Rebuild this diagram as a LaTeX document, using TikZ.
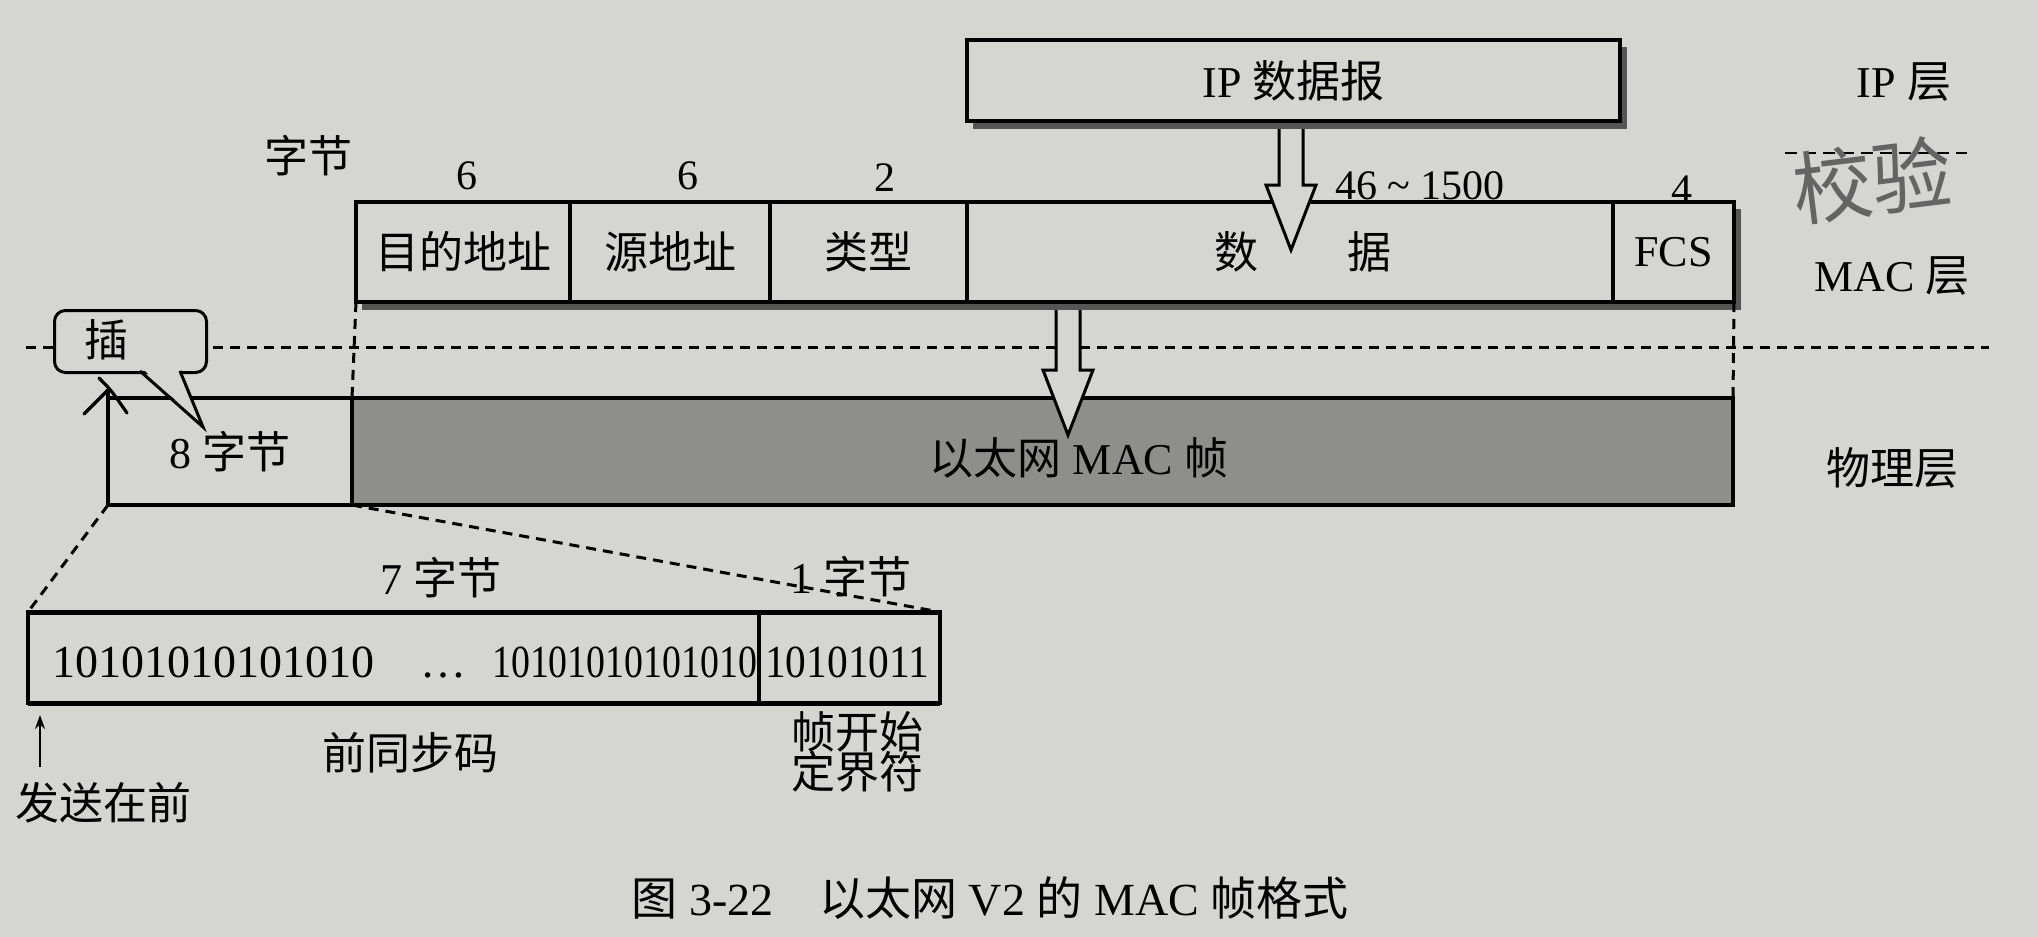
\documentclass[tikz,border=0pt]{standalone}
\usepackage{fontspec}
\setmainfont{Liberation Serif}
\newfontfamily\cjk{Noto Sans CJK SC}
\usetikzlibrary{arrows.meta}
\definecolor{paper}{RGB}{213,213,209}
\definecolor{framegray}{RGB}{142,142,139}
\definecolor{shadowgray}{RGB}{85,85,85}
\definecolor{pencil}{RGB}{100,100,100}
\newcommand{\fs}[1]{\fontsize{#1}{#1}\selectfont}
\tikzset{
  field/.style={draw=black, line width=3.2pt, fill=paper, inner sep=0pt, outer sep=0pt,
                anchor=north west, minimum height=100pt, font=\fs{44}\cjk},
  lab/.style={inner sep=0pt, font=\fs{42}},
  zh/.style={inner sep=0pt, font=\fs{44}\cjk},
  dashline/.style={line width=3pt, dash pattern=on 10pt off 7pt},
  hollow/.style={draw=black, line width=3pt, fill=paper, line join=miter},
  edge/.style={line width=3.2pt},
}
\newcommand{\harrow}[4]{%
  \filldraw[hollow] (#1-12,#2) -- (#1-12,#3) -- (#1-25,#3) -- (#1,#4) -- (#1+25,#3) -- (#1+12,#3) -- (#1+12,#2);}
\begin{document}
\begin{tikzpicture}[x=1pt,y=-1pt]
\useasboundingbox (0,0) rectangle (2038,937);
\fill[paper] (0,0) rectangle (2038,937);

% ---------- IP layer ----------
\fill[shadowgray] (973,47) rectangle (1627,129);
\node[field, minimum width=653pt, minimum height=81pt, font=\fs{44}] (ip) at (967,40) {IP {\cjk 数据报}};
\node[lab, font=\fs{44}] (iplayer) at (1904,82) {IP {\cjk 层}};
\draw[line width=2.8pt, dash pattern=on 12pt off 7pt] (1785,153) -- (1967,153);

% ---------- MAC frame ----------
\node[zh] (bytes) at (308,156) {字节};
\fill[shadowgray] (362,209) rectangle (1741,310);
\node[field, minimum width=214pt] (dst) at (356,202) {目的地址};
\node[field, minimum width=200pt] (src) at (dst.north east) {源地址};
\node[field, minimum width=197pt] (type) at (src.north east) {类型};
\node[field, minimum width=646pt] (data) at (type.north east) {\hspace{26pt}数\hspace{90pt}据};
\node[field, minimum width=121pt, font=\fs{44}] (fcs) at (data.north east) {FCS};
\node[lab] (n1) at (467,176) {6};
\node[lab] (n2) at (688,176) {6};
\node[lab] (n3) at (885,178) {2};
\node[lab] (n4) at (1420,186) {46 \char"007E\ 1500};
\node[lab] (n5) at (1682,190) {4};
\node[lab, font=\fs{44}] (maclayer) at (1892,276) {MAC {\cjk 层}};

% IP -> data arrow
\harrow{1291}{129}{185}{250}

% ---------- layer separator ----------
\draw[dashline] (26,347) -- (1989,347);

% ---------- physical layer ----------
\node[field, fill=framegray, minimum width=1381pt, minimum height=107pt] (phys) at (352,398) {};
\node[inner sep=0pt, font=\fs{44}] (physname) at (1079,458) {{\cjk 以太网} MAC {\cjk 帧}};
\coordinate (pbl) at (108,505);
\coordinate (ptl) at (108,398);
\draw[edge] (ptl) -- (phys.north west);
\draw[edge] (pbl) -- (phys.south west);
\node[zh, font=\fs{44}] (eight) at (230,452) {8 {\cjk 字节}};
\node[zh] (physlayer) at (1892,468) {物理层};

\draw[dashline] (dst.south west) -- (phys.north west);
\draw[dashline] (fcs.south east) -- (phys.north east);

% MAC -> physical arrow
\harrow{1068}{310}{370}{435}

% insert arrow (shaped like 入)
\draw[edge] (pbl) -- (108,389);
\draw[edge, line cap=round] (99,378) .. controls (111,390) .. (127,413);
\draw[edge, line cap=round] (108,390) -- (84,414);

% speech bubble 插
\node[draw=black, line width=3pt, rounded corners=11pt, fill=paper, anchor=north west,
      minimum width=152pt, minimum height=62pt, inner sep=0pt] (bub) at (53,309) {};
\node[zh] (ins) at (106,340) {插};
\coordinate (tailtip) at (203,427);
\fill[paper] (141,367) -- (tailtip) -- (179,367) -- cycle;
\draw[line width=3pt, line join=miter] (140,371) -- (tailtip) -- (180,371);

% ---------- preamble ----------
\draw[dashline] (pbl) -- (28,612);
\node[field, minimum width=731pt, minimum height=91pt] (pre) at (28,612) {};
\node[field, minimum width=181pt, minimum height=91pt] (sfd) at (pre.north east) {};
\draw[line width=5pt] (pre.north west) -- (sfd.north east);
\draw[line width=5pt] (pre.south west) -- (sfd.south east);
\draw[dashline] (phys.south west) -- (sfd.north east);

\node[inner sep=0pt, anchor=base west, font=\fs{46}] (bits1) at (52,677) {10101010101010};
\node[inner sep=0pt, anchor=base, font=\fs{46}] (dots) at (443,677) {\char"2026};
\node[inner sep=0pt, anchor=base west, font=\fs{46}] (bits2) at (492,677) {\scalebox{0.823}[1]{10101010101010}};
\node[inner sep=0pt, anchor=base west, font=\fs{46}] (bits3) at (765,677) {\scalebox{0.9}[1]{10101011}};

\node[zh, font=\fs{44}] (seven) at (441,578) {7 {\cjk 字节}};
\node[zh, font=\fs{44}] (one) at (851,577) {1 {\cjk 字节}};
\node[zh] (prename) at (410,753) {前同步码};
\node[zh, align=center] (sfdname) at (857,752) {帧开始\\[-4pt]定界符};
\node[zh] (first) at (104,803) {发送在前};
\coordinate (sendtail) at (40,767);
\coordinate (sendtip) at (40,715);
\draw[line width=2.6pt, -{Stealth[length=14pt,width=10pt]}] (sendtail) -- (sendtip);

% ---------- handwriting ----------
\node[inner sep=0pt, font=\fs{80}\cjk, text=pencil, rotate=7] (hand) at (1872,180) {校验};

% ---------- caption ----------
\node[inner sep=0pt, font=\fs{46}] (caption) at (990,898) {{\cjk 图} 3-22\hspace{46pt}{\cjk 以太网} V2 {\cjk 的} MAC {\cjk 帧格式}};
\end{tikzpicture}
\end{document}
